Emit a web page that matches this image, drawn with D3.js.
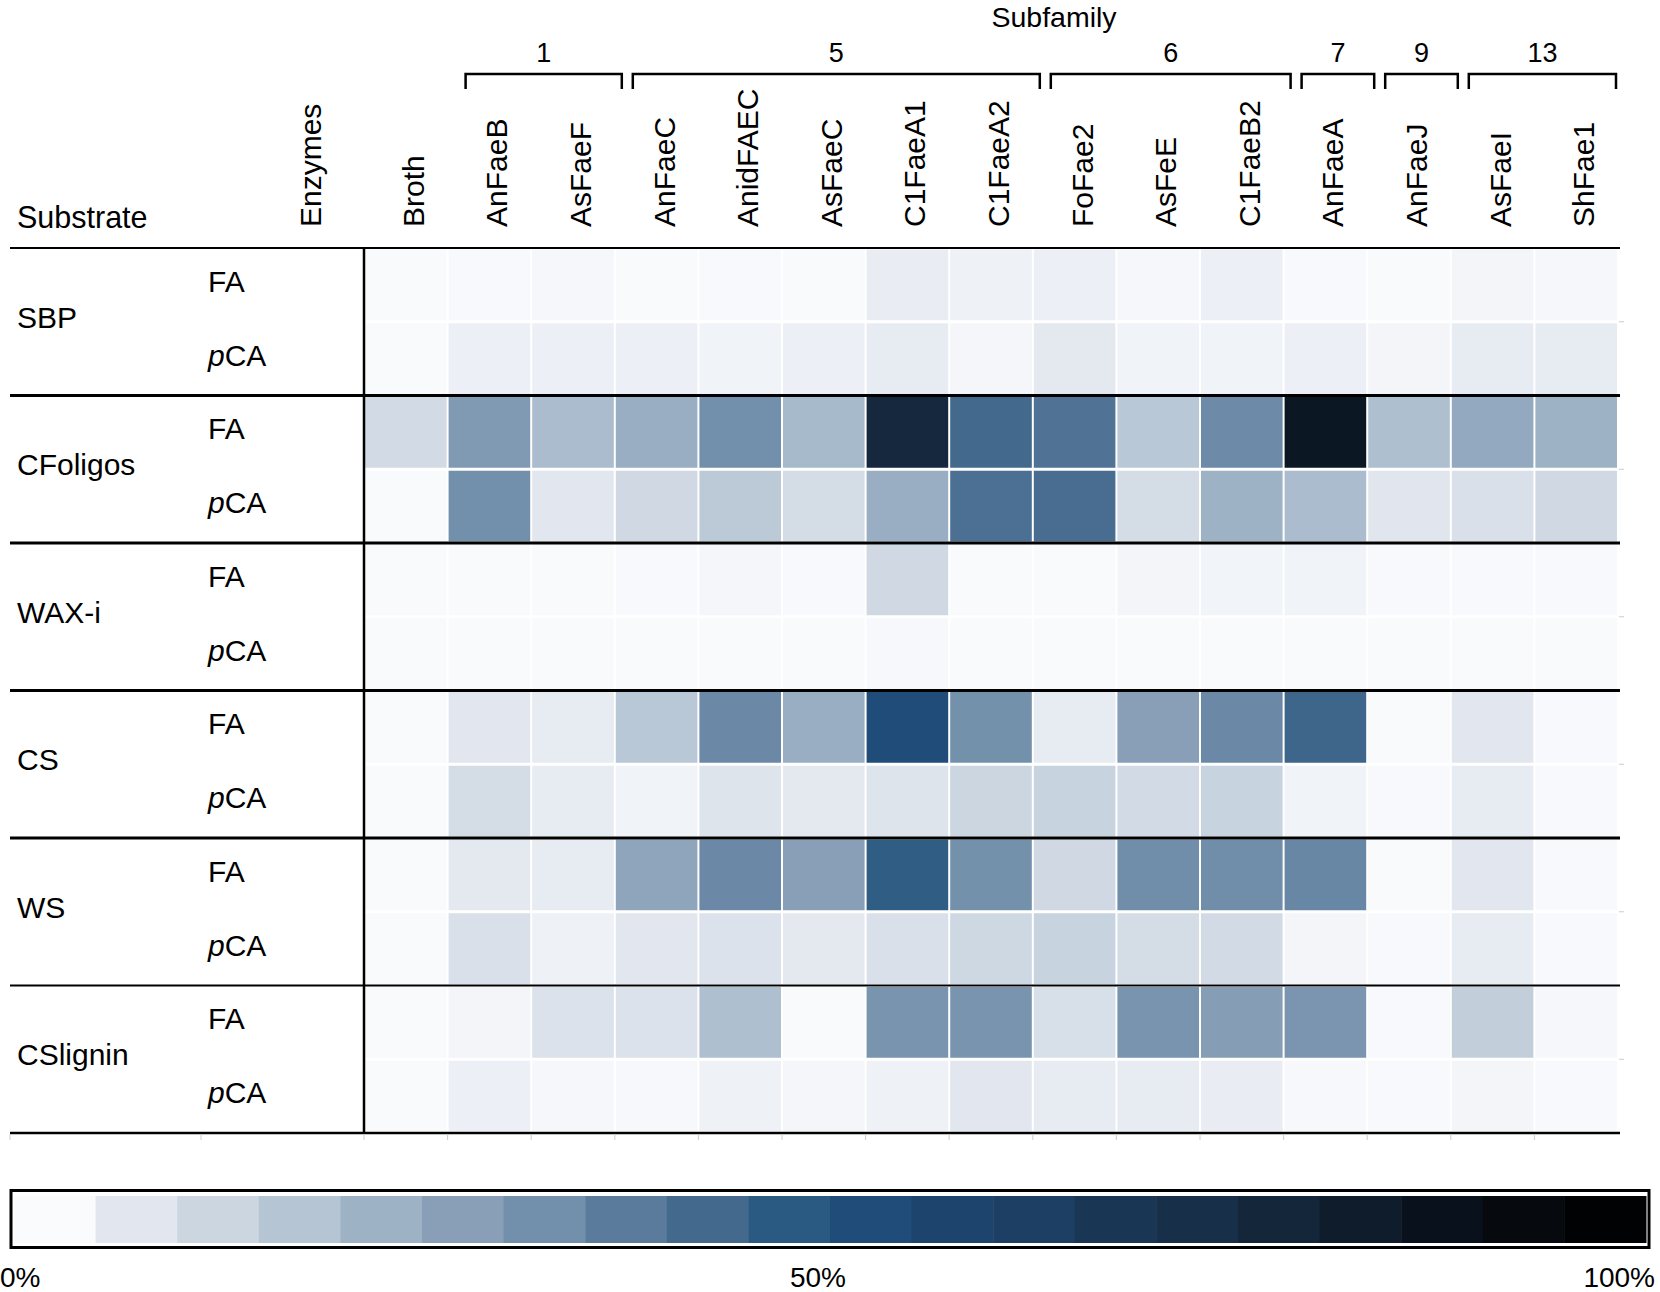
<!DOCTYPE html>
<html>
<head>
<meta charset="utf-8">
<script src="https://cdn.jsdelivr.net/npm/d3@7"></script>
<style>
  body { margin: 0; background: #fff; }
  svg { display: block; font-family: "Liberation Sans", Arial, sans-serif; }
</style>
</head>
<body>
<div id="chart"></div>
<script>
/* Heatmap of enzyme release (FA / pCA) per substrate, 20-step blue legend. */
var enzymes = ["Broth", "AnFaeB", "AsFaeF", "AnFaeC", "AnidFAEC", "AsFaeC",
               "C1FaeA1", "C1FaeA2", "FoFae2", "AsFeE", "C1FaeB2", "AnFaeA",
               "AnFaeJ", "AsFaeI", "ShFae1"];
var substrates = ["SBP", "CFoligos", "WAX-i", "CS", "WS", "CSlignin"];
var acids = ["FA", "pCA"];

var subfamilyLabels = ["1", "5", "6", "7", "9", "13"];
var subfamilyStart = ["AnFaeB", "AnFaeC", "FoFae2", "AnFaeA", "AnFaeJ", "AsFaeI"];
var subfamilyEnd = ["AsFaeF", "C1FaeA2", "C1FaeB2", "AnFaeA", "AnFaeJ", "ShFae1"];

// values in %, one array per substrate / acid
var sbpFA    = [2.8, 3, 3.5, 2.8, 3, 2.8, 6, 5, 5.5, 3.5, 5.5, 3, 2.8, 4, 3.5];
var sbpPCA   = [2.8, 5.5, 5.5, 5.5, 4.5, 5.5, 6.5, 3.8, 7, 4.5, 4.5, 5.5, 4, 6.5, 6.5];
var cfoFA    = [11, 29, 20, 23.5, 32.5, 20.5, 76.5, 42.5, 40, 16.5, 33.5, 85, 19, 25, 22.5];
var cfoPCA   = [2.8, 32.5, 7.5, 11.5, 16, 10.5, 23.5, 40.5, 41.5, 10.5, 22.5, 20, 8, 9.5, 11.5];
var waxFA    = [2.8, 2.8, 2.8, 3, 3.8, 3, 11.5, 2.8, 2.8, 4, 4.3, 4.5, 3, 3, 3];
var waxPCA   = [2.7, 2.7, 2.7, 2.7, 2.7, 2.7, 3.3, 2.7, 2.7, 2.7, 2.7, 2.7, 2.7, 2.7, 2.7];
var csFA     = [2.8, 7.5, 6.5, 16.5, 34, 23.5, 52.5, 32, 6.5, 27.5, 34, 43.5, 2.8, 7.5, 3];
var csPCA    = [2.8, 10.5, 6.5, 4.5, 8.5, 7, 8.5, 12.5, 13.5, 11, 13.5, 4.5, 3, 6.5, 3];
var wsFA     = [2.8, 7, 6.5, 26, 34, 27.5, 46.5, 32, 11.5, 33, 33, 34.5, 2.8, 7.5, 3];
var wsPCA    = [2.8, 9.5, 5, 7.5, 9, 7, 9.5, 12, 13.5, 10.5, 11, 4, 3, 6.5, 3];
var cslFA    = [2.8, 4, 9, 9, 19, 2.8, 31, 31, 10, 31, 28, 30.5, 3, 14.5, 3.5];
var cslPCA   = [2.8, 5.5, 3.5, 3.3, 5, 3.8, 5, 7.5, 6.5, 6.5, 6, 3.3, 3, 4, 3];
var rows = [sbpFA, sbpPCA, cfoFA, cfoPCA, waxFA, waxPCA,
            csFA, csPCA, wsFA, wsPCA, cslFA, cslPCA];

var palette = ["#fafbfd", "#e2e7ef", "#cbd6e0", "#b5c5d4", "#9eb2c6",
               "#889fb7", "#728fab", "#5a7b9c", "#43698d", "#2a5a82",
               "#1f4c78", "#1d446c", "#1c3f63", "#193655", "#172f48",
               "#14263a", "#0f1c2c", "#09111c", "#060a0f", "#010203"];
var legendTicks = ["0%", "50%", "100%"];
var legendTickValues = [0, 50, 100];

(function () {
  var W = 1660, H = 1292;
  var svg = d3.select("#chart").append("svg")
    .attr("width", W).attr("height", H);

  var rowKeys = [];
  substrates.forEach(function (s) {
    acids.forEach(function (a) { rowKeys.push(s + "|" + a); });
  });

  var x = d3.scaleBand().domain(enzymes).range([364, 1618]);
  var y = d3.scaleBand().domain(rowKeys).range([248, 1133]);
  var color = d3.scaleLinear()
    .domain(palette.map(function (c, i) { return i * 5 + 2.5; }))
    .range(palette).clamp(true);

  // cells
  var cells = [];
  rows.forEach(function (vals, r) {
    vals.forEach(function (v, c) {
      cells.push({ row: rowKeys[r], enz: enzymes[c], v: v });
    });
  });
  svg.append("g").selectAll("rect").data(cells).join("rect")
    .attr("x", function (d) { return x(d.enz) + 1; })
    .attr("y", function (d) { return y(d.row) + 1.5; })
    .attr("width", x.bandwidth() - 2)
    .attr("height", y.bandwidth() - 3)
    .attr("fill", function (d) { return color(d.v); });

  // header
  svg.append("text").attr("x", 1054).attr("y", 27)
    .attr("text-anchor", "middle").attr("font-size", 28.5).text("Subfamily");
  svg.append("text").attr("x", 17).attr("y", 228)
    .attr("font-size", 30.5).text("Substrate");
  svg.append("text")
    .attr("transform", "translate(321,227) rotate(-90)")
    .attr("font-size", 30).text("Enzymes");
  svg.append("g").selectAll("text").data(enzymes).join("text")
    .attr("transform", function (d) {
      return "translate(" + (x(d) + x.bandwidth() / 2 + 18) + ",227) rotate(-90)";
    })
    .attr("font-size", 30).text(function (d) { return d; });

  // subfamily brackets
  var br = svg.append("g");
  subfamilyLabels.forEach(function (lab, i) {
    var x0 = x(subfamilyStart[i]) + 18;
    var x1 = Math.min(x(subfamilyEnd[i]) + x.bandwidth() + 7, 1616);
    br.append("path")
      .attr("d", "M" + x0 + ",89V74H" + x1 + "V89")
      .attr("fill", "none").attr("stroke", "#000").attr("stroke-width", 2.5);
    br.append("text").attr("x", (x0 + x1) / 2).attr("y", 62)
      .attr("text-anchor", "middle").attr("font-size", 27).text(lab);
  });

  // row labels
  substrates.forEach(function (s) {
    var yc = y(s + "|FA") + y.bandwidth();
    svg.append("text").attr("x", 17).attr("y", yc + 6)
      .attr("font-size", 30).text(s);
  });
  rowKeys.forEach(function (k) {
    var a = k.split("|")[1];
    var t = svg.append("text").attr("x", 208)
      .attr("y", y(k) + y.bandwidth() / 2 + 7).attr("font-size", 30);
    if (a === "pCA") {
      t.append("tspan").attr("font-style", "italic").text("p");
      t.append("tspan").text("CA");
    } else {
      t.text(a);
    }
  });

  // rules
  var top = y.range()[0], bot = y.range()[1];
  var lines = svg.append("g").attr("stroke", "#000");
  lines.append("line").attr("x1", 10).attr("x2", 1620)
    .attr("y1", top).attr("y2", top).attr("stroke-width", 2);
  substrates.slice(1).forEach(function (s, i) {
    var yy = y(s + "|FA");
    lines.append("line").attr("x1", 10).attr("x2", 1620)
      .attr("y1", yy).attr("y2", yy)
      .attr("stroke-width", i === substrates.length - 2 ? 2 : 3);
  });
  lines.append("line").attr("x1", 10).attr("x2", 1620)
    .attr("y1", bot).attr("y2", bot).attr("stroke-width", 2.5);
  lines.append("line").attr("x1", 364).attr("x2", 364)
    .attr("y1", top).attr("y2", bot).attr("stroke-width", 2.5);

  // faint ticks under the bottom rule and at the right edge
  var tickX = [10, 201].concat(enzymes.map(function (e) { return x(e); }));
  svg.append("g").selectAll("line").data(tickX).join("line")
    .attr("x1", function (d) { return d; }).attr("x2", function (d) { return d; })
    .attr("y1", bot + 1).attr("y2", bot + 7)
    .attr("stroke", "#ccc").attr("stroke-width", 1);
  svg.append("g").selectAll("line").data(substrates).join("line")
    .attr("x1", 1619).attr("x2", 1624)
    .attr("y1", function (s) { return y(s + "|pCA"); })
    .attr("y2", function (s) { return y(s + "|pCA"); })
    .attr("stroke", "#ccc").attr("stroke-width", 1);

  // legend
  var lx = d3.scaleLinear().domain([0, 100]).range([14, 1646]);
  var lg = svg.append("g");
  lg.append("rect").attr("x", 11).attr("y", 1190.5)
    .attr("width", 1638).attr("height", 57)
    .attr("fill", "#fff").attr("stroke", "#000").attr("stroke-width", 3);
  lg.selectAll("rect.bin").data(palette).join("rect").attr("class", "bin")
    .attr("x", function (c, i) { return lx(i * 5); })
    .attr("y", 1196)
    .attr("width", lx(5) - lx(0) + 0.5)
    .attr("height", 47)
    .attr("fill", function (c) { return c; });
  var anchors = ["start", "middle", "end"];
  var nudges = [-14, -12, 9];
  lg.selectAll("text").data(legendTicks).join("text")
    .attr("x", function (t, i) { return lx(legendTickValues[i]) + nudges[i]; })
    .attr("y", 1287)
    .attr("text-anchor", function (t, i) { return anchors[i]; })
    .attr("font-size", 28)
    .text(function (t) { return t; });
})();
</script>
</body>
</html>
